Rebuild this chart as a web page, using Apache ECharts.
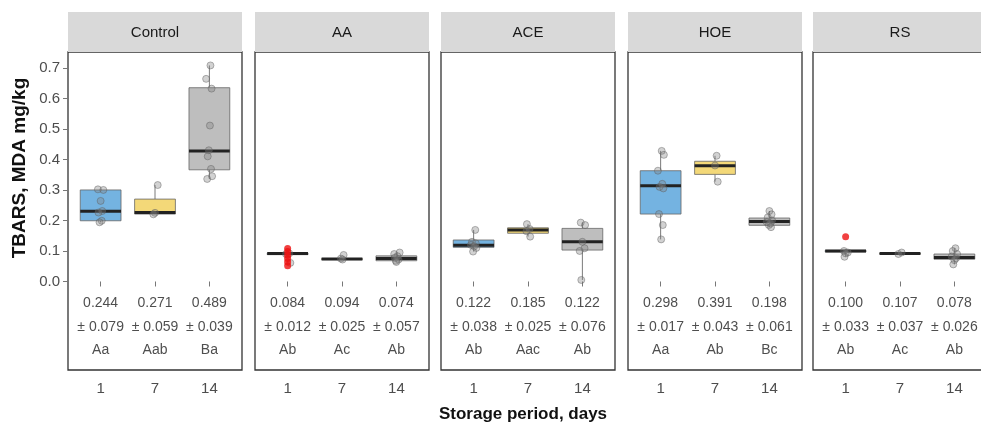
<!DOCTYPE html>
<html>
<head>
<meta charset="utf-8">
<script src="https://cdn.jsdelivr.net/npm/echarts@6/dist/echarts.min.js"></script>
<style>html,body{margin:0;padding:0;background:#fff}#c{width:981px;height:426px}</style>
</head>
<body>
<div id="c"></div>
<script>
// ---------- data ----------
const panels = ['Control', 'AA', 'ACE', 'HOE', 'RS'];
const days = ['1', '7', '14'];
const yTicks = [0, 0.1, 0.2, 0.3, 0.4, 0.5, 0.6, 0.7];

// box stats per day: [lower whisker, Q1, median, Q3, upper whisker]
const boxControl = [[0.194, 0.199, 0.230, 0.300, 0.302], [0.220, 0.221, 0.226, 0.270, 0.316], [0.336, 0.366, 0.428, 0.635, 0.708]];
const boxAA      = [[0.086, 0.088, 0.092, 0.093, 0.094], [0.072, 0.073, 0.074, 0.075, 0.076], [0.064, 0.068, 0.075, 0.084, 0.095]];
const boxACE     = [[0.098, 0.112, 0.119, 0.136, 0.169], [0.147, 0.158, 0.169, 0.176, 0.188], [0.005, 0.103, 0.130, 0.174, 0.193]];
const boxHOE     = [[0.138, 0.221, 0.314, 0.363, 0.428], [0.327, 0.351, 0.379, 0.394, 0.412], [0.178, 0.184, 0.197, 0.208, 0.231]];
const boxRS      = [[0.081, 0.097, 0.100, 0.102, 0.104], [0.090, 0.091, 0.092, 0.093, 0.094], [0.056, 0.073, 0.079, 0.090, 0.109]];

// individual observations per day
const ptsControl = [[0.302, 0.300, 0.264, 0.231, 0.226, 0.199, 0.194], [0.316, 0.225, 0.220], [0.708, 0.664, 0.632, 0.511, 0.430, 0.410, 0.369, 0.345, 0.336]];
const ptsAA      = [[0.092, 0.090, 0.061], [0.087, 0.075, 0.072], [0.095, 0.090, 0.083, 0.078, 0.072, 0.068, 0.064]];
const ptsACE     = [[0.169, 0.130, 0.125, 0.120, 0.115, 0.110, 0.098], [0.188, 0.172, 0.165, 0.147], [0.193, 0.185, 0.130, 0.109, 0.100, 0.005]];
const ptsHOE     = [[0.428, 0.415, 0.363, 0.320, 0.310, 0.305, 0.221, 0.185, 0.138], [0.412, 0.380, 0.327], [0.231, 0.220, 0.210, 0.200, 0.195, 0.190, 0.185, 0.178]];
const ptsRS      = [[0.100, 0.095, 0.092, 0.081], [0.095, 0.090], [0.109, 0.100, 0.090, 0.082, 0.076, 0.070, 0.056]];

// small horizontal jitter (category units), per day
const jitControl = [[-0.05, 0.05, 0, 0.03, -0.04, 0.02, -0.02], [0.05, 0, -0.03], [0.02, -0.06, 0.04, 0.01, -0.01, -0.03, 0.03, 0.05, -0.04]];
const jitAA      = [[0.03, -0.03, 0.05], [0.03, -0.02, 0.01], [0.06, -0.04, 0.02, -0.03, 0.04, -0.01, 0]];
const jitACE     = [[0.03, -0.03, 0.04, -0.05, 0.01, 0.05, -0.01], [-0.02, 0.03, -0.03, 0.04], [-0.03, 0.05, 0, 0.04, -0.05, -0.02]];
const jitHOE     = [[0.02, 0.06, -0.05, 0.03, -0.02, 0.05, -0.03, 0.04, 0.01], [0.03, 0, 0.05], [0, 0.04, -0.03, 0.05, -0.05, 0.02, -0.01, 0.03]];
const jitRS      = [[-0.03, 0.04, 0, -0.02], [0.03, -0.03], [0.02, -0.03, 0.05, -0.05, 0.03, 0, -0.02]];

// outliers (red) per day
const outControl = [[], [], []];
const outAA      = [[0.108, 0.098, 0.086, 0.075, 0.064, 0.052], [], []];
const outACE     = [[], [], []];
const outHOE     = [[], [], []];
const outRS      = [[0.147], [], []];

// annotation text
const meanControl = ['0.244', '0.271', '0.489'];
const meanAA      = ['0.084', '0.094', '0.074'];
const meanACE     = ['0.122', '0.185', '0.122'];
const meanHOE     = ['0.298', '0.391', '0.198'];
const meanRS      = ['0.100', '0.107', '0.078'];
const sdControl = ['0.079', '0.059', '0.039'];
const sdAA      = ['0.012', '0.025', '0.057'];
const sdACE     = ['0.038', '0.025', '0.076'];
const sdHOE     = ['0.017', '0.043', '0.061'];
const sdRS      = ['0.033', '0.037', '0.026'];
const letControl = ['Aa', 'Aab', 'Ba'];
const letAA      = ['Ab', 'Ac', 'Ab'];
const letACE     = ['Ab', 'Aac', 'Ab'];
const letHOE     = ['Aa', 'Ab', 'Bc'];
const letRS      = ['Ab', 'Ac', 'Ab'];

// ---------- build ----------
const boxes = [boxControl, boxAA, boxACE, boxHOE, boxRS];
const pts = [ptsControl, ptsAA, ptsACE, ptsHOE, ptsRS];
const jits = [jitControl, jitAA, jitACE, jitHOE, jitRS];
const outs = [outControl, outAA, outACE, outHOE, outRS];
const means = [meanControl, meanAA, meanACE, meanHOE, meanRS];
const sds = [sdControl, sdAA, sdACE, sdHOE, sdRS];
const lets = [letControl, letAA, letACE, letHOE, letRS];

const FONT = '"Liberation Sans", Arial, Helvetica, sans-serif';
const fills = ['#74B3E1', '#F3D878', '#BEBEBE'];
const gridLeft = [68, 255, 441, 628, 813];
const gridW = 174, gridTop = 52, gridH = 318;
const stripTop = 12;
const yMin = -0.29, yMax = 0.752;
const txtY = [-0.07, -0.149, -0.225];

const grid = [], xAxis = [], yAxis = [], series = [], graphic = [];

panels.forEach((name, i) => {
  grid.push({ left: gridLeft[i], top: gridTop, width: gridW, height: gridH, show: true,
    outerBoundsMode: 'none', containLabel: false,
    borderColor: '#333', borderWidth: 1.3, backgroundColor: '#fff' });
  xAxis.push({ type: 'value', gridIndex: i, min: 0.4, max: 3.6,
    axisLine: { show: false }, splitLine: { show: false },
    axisTick: { show: true, length: 5, customValues: [1, 2, 3], lineStyle: { color: '#777' } },
    axisLabel: { show: true, customValues: [1, 2, 3], margin: 11, fontSize: 15, color: '#4d4d4d', fontFamily: FONT,
      formatter: v => days[Math.round(v) - 1] } });
  yAxis.push({ type: 'value', gridIndex: i, min: yMin, max: yMax,
    axisLine: { show: false }, splitLine: { show: false },
    axisTick: { show: i === 0, length: 5, customValues: yTicks, lineStyle: { color: '#777' } },
    axisLabel: { show: i === 0, customValues: yTicks, margin: 8, fontSize: 15, color: '#4d4d4d', fontFamily: FONT,
      formatter: v => v.toFixed(1) } });

  // strip
  graphic.push({ type: 'rect', shape: { x: gridLeft[i], y: stripTop, width: gridW, height: gridTop - stripTop },
    style: { fill: '#D9D9D9' }, z: 0 });
  graphic.push({ type: 'text', x: gridLeft[i] + gridW / 2, y: (stripTop + gridTop) / 2 + 1,
    style: { text: name, fill: '#1a1a1a', font: '15px ' + FONT, textAlign: 'center', textVerticalAlign: 'middle' }, z: 1 });

  // boxes
  series.push({
    type: 'custom', xAxisIndex: i, yAxisIndex: i, z: 2,
    data: boxes[i].map((b, d) => [d + 1, b[0], b[1], b[2], b[3], b[4], d]),
    renderItem: (params, api) => {
      const x = api.value(0);
      const hw = api.size([0.75, 0])[0] / 2;
      const pLow = api.coord([x, api.value(1)]);
      const pQ1 = api.coord([x, api.value(2)]);
      const pMed = api.coord([x, api.value(3)]);
      const pQ3 = api.coord([x, api.value(4)]);
      const pHigh = api.coord([x, api.value(5)]);
      const fill = fills[api.value(6)];
      return { type: 'group', children: [
        { type: 'line', shape: { x1: pLow[0], y1: pLow[1], x2: pQ1[0], y2: pQ1[1] }, style: { stroke: '#7a7a7a', lineWidth: 1 } },
        { type: 'line', shape: { x1: pQ3[0], y1: pQ3[1], x2: pHigh[0], y2: pHigh[1] }, style: { stroke: '#7a7a7a', lineWidth: 1 } },
        { type: 'rect', shape: { x: pQ3[0] - hw, y: pQ3[1], width: 2 * hw, height: Math.max(pQ1[1] - pQ3[1], 1) },
          style: { fill: fill, stroke: '#666', lineWidth: 0.8 } },
        { type: 'line', shape: { x1: pMed[0] - hw, y1: pMed[1], x2: pMed[0] + hw, y2: pMed[1] }, style: { stroke: '#222', lineWidth: 3 } }
      ] };
    }
  });

  // points
  const pdata = [];
  pts[i].forEach((arr, d) => arr.forEach((v, k) => pdata.push([d + 1 + jits[i][d][k], v])));
  series.push({ type: 'scatter', xAxisIndex: i, yAxisIndex: i, z: 3, symbolSize: 7, data: pdata,
    itemStyle: { color: 'rgba(130,130,130,0.45)', borderColor: 'rgba(90,90,90,0.55)', borderWidth: 1 } });

  const odata = [];
  outs[i].forEach((arr, d) => arr.forEach(v => odata.push([d + 1, v])));
  series.push({ type: 'scatter', xAxisIndex: i, yAxisIndex: i, z: 4, symbolSize: 7, data: odata,
    itemStyle: { color: '#ee1111' } });

  // annotations
  const adata = [];
  days.forEach((dd, d) => {
    adata.push([d + 1, txtY[0], means[i][d]]);
    adata.push([d + 1, txtY[1], '\u00b1 ' + sds[i][d]]);
    adata.push([d + 1, txtY[2], lets[i][d]]);
  });
  series.push({ type: 'scatter', xAxisIndex: i, yAxisIndex: i, z: 5, symbolSize: 1, data: adata,
    itemStyle: { color: 'rgba(0,0,0,0)' }, silent: true,
    label: { show: true, position: 'inside', formatter: p => p.value[2], fontSize: 14, color: '#222', fontFamily: FONT } });
});

graphic.push({ type: 'text', x: 20, y: 168, rotation: Math.PI / 2,
  style: { text: 'TBARS, MDA mg/kg', fill: '#111', font: 'bold 19px ' + FONT, textAlign: 'center', textVerticalAlign: 'middle' } });
graphic.push({ type: 'text', x: 523, y: 414,
  style: { text: 'Storage period, days', fill: '#111', font: 'bold 17px ' + FONT, textAlign: 'center', textVerticalAlign: 'middle' } });

const chart = echarts.init(document.getElementById('c'), null, { renderer: 'canvas' });
chart.setOption({ animation: false, backgroundColor: '#fff', grid, xAxis, yAxis, series, graphic });
</script>
</body>
</html>
